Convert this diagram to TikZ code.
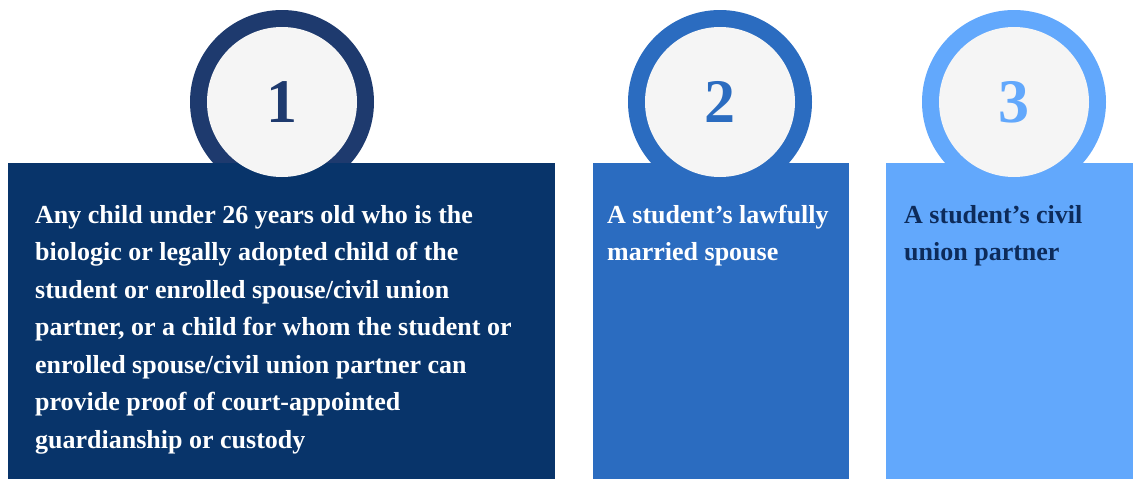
\documentclass[tikz,border=0pt]{standalone}
\usepackage{fontspec}
\setmainfont{Liberation Serif}
\definecolor{navy}{HTML}{08346A}
\definecolor{navyring}{HTML}{1E3A6E}
\definecolor{midblue}{HTML}{2B6CC0}
\definecolor{lightblue}{HTML}{62A8FC}
\definecolor{darktext}{HTML}{0D2B5A}
\definecolor{discgrey}{HTML}{F5F5F5}
\def\ro{184pt}
\def\ri{150pt}
\def\h{316pt}
\tikzset{
  card/.style={fill=#1,inner sep=0pt,anchor=north west,minimum height=\h},
  ring/.style={circle,fill=#1,inner sep=0pt,minimum size=\ro},
  disc/.style={circle,fill=discgrey,inner sep=0pt,minimum size=\ri,
    text=#1,font=\fontsize{62}{62}\selectfont\bfseries},
  card text/.style={anchor=base west,align=left,inner sep=0pt,text=#1,
    font=\fontsize{26}{37.5}\selectfont\bfseries}
}

\begin{document}
\begin{tikzpicture}[x=1pt,y=-1pt]
\useasboundingbox (0,0) rectangle (1133,479);
% rings, cards and discs
\foreach\n/\x/\w/\c/\rc/\cc in {1/8/547/282/navyring/navy,
                               2/593/256/720/midblue/midblue,
                               3/886/247/1014/lightblue/lightblue}
{
  \node[ring=\rc] (ring\n) at (\c,102) {};
  \node[card=\cc,minimum width=\w pt] (card\n) at (\x,163) {};
  \node[disc=\rc] (disc\n) at (ring\n) {\n};
}
% texts (placed at the baseline of their last line)
\node[card text=white] (text1) at (35,448)
  {Any child under 26 years old who is the\\
   biologic or legally adopted child of the\\
   student or enrolled spouse/civil union\\
   partner, or a child for whom the student or\\
   enrolled spouse/civil union partner can\\
   provide proof of court-appointed\\
   guardianship or custody};
\node[card text=white] (text2) at (607,260.5)
  {A student’s lawfully\\ married spouse};
\node[card text=darktext] (text3) at (904,260.5)
  {A student’s civil\\ union partner};
\end{tikzpicture}
\end{document}
